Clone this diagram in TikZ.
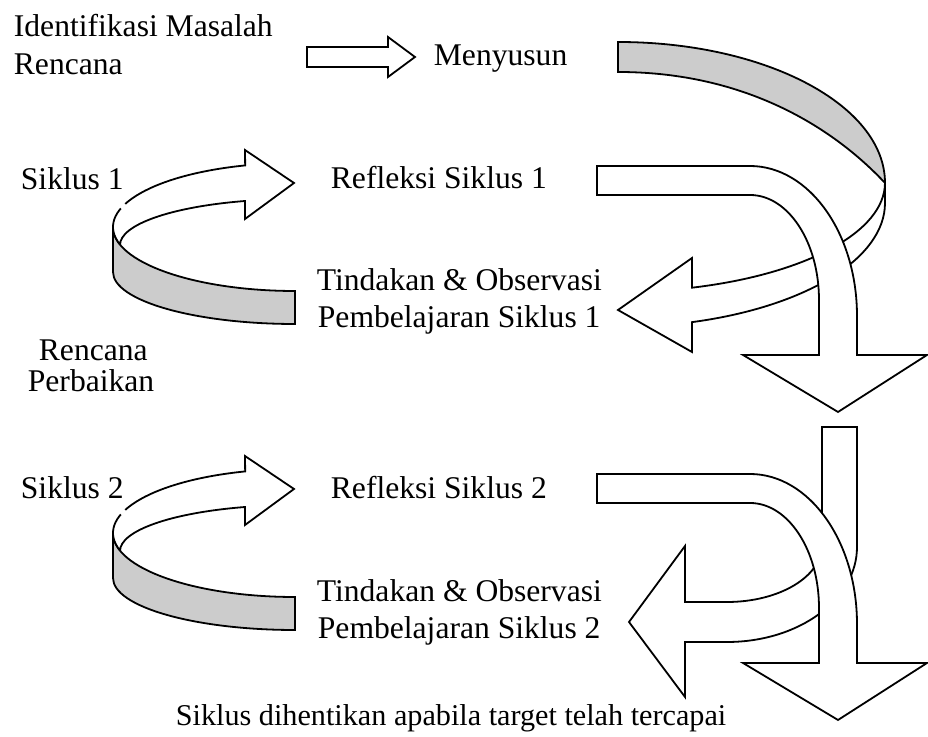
\documentclass[tikz,border=0pt]{standalone}
\usepackage{fontspec}
\setmainfont{Liberation Serif}
\definecolor{ribbon}{RGB}{204,204,204}
\begin{document}
\begin{tikzpicture}[x=0.5pt,y=-0.5pt,line width=0.9pt,line join=miter,
  front/.style={draw=black,fill=white},
  back/.style={draw=black,fill=ribbon},
  lbl/.style={anchor=base west,inner sep=0pt,font=\fontsize{15.8}{18}\selectfont}]
\useasboundingbox (0,0) rectangle (928,737);

% small straight arrow
\filldraw[front] (307,47) -- (388,47) -- (388,37) -- (415,57) -- (388,77) -- (388,67) -- (307,67) -- cycle;

% top curved-left arrow (A)
\filldraw[back] (618,42) arc[start angle=270,end angle=360,x radius=267,y radius=141]
  .. controls (844,139) and (758,72) .. (618,72) -- cycle;
\filldraw[front] (885,183) -- (885,203)
  arc[start angle=0,end angle=73.9,x radius=267,y radius=124]
  -- (692,352) -- (618,310) -- (692,258) -- (692,287.7)
  arc[start angle=73.9,end angle=0,x radius=267,y radius=109] -- cycle;

% bent arrow 1 (B)
\filldraw[front] (597,166) -- (750,166)
  arc[start angle=270,end angle=360,x radius=107,y radius=150]
  -- (857,355) -- (927,355) -- (838,412) -- (743,355) -- (819,355) -- (819,300)
  arc[start angle=0,end angle=-90,x radius=69,y radius=105]
  -- (597,195) -- cycle;

% left curved-right arrows (C)
\foreach \dy in {0,306}{
\begin{scope}[shift={(0,\dy)}]
\filldraw[back] (113,227) arc[start angle=180,end angle=90,x radius=182,y radius=64]
  -- (295,324) arc[start angle=90,end angle=180,x radius=182,y radius=52] -- cycle;
\filldraw[front] (245,150) -- (294,183) -- (245,219) -- (245,201)
  arc[start angle=253.4,end angle=180,x radius=175,y radius=46]
  -- (120.0,244.5)
  arc[start angle=164.1,end angle=254.1,x radius=182,y radius=64] -- cycle;
\draw[white,line width=1.6pt] (121.0,208.3) arc[start angle=197,end angle=201,x radius=182,y radius=64];
\end{scope}}

% curved-left arrow 2 (E)
\filldraw[front] (822,427) -- (857,427) -- (857,547)
  arc[start angle=0,end angle=90,x radius=130,y radius=95]
  -- (685,642) -- (685,697) -- (629,622) -- (685,546) -- (685,602) -- (727,602)
  arc[start angle=90,end angle=0,x radius=95,y radius=57] -- cycle;

% bent arrow 2 (D)
\begin{scope}[shift={(0,308)}]
\filldraw[front] (597,166) -- (750,166)
  arc[start angle=270,end angle=360,x radius=107,y radius=150]
  -- (857,355) -- (927,355) -- (838,412) -- (743,355) -- (819,355) -- (819,300)
  arc[start angle=0,end angle=-90,x radius=69,y radius=105]
  -- (597,195) -- cycle;
\end{scope}

% texts
\node[lbl] (t1) at (13,37) {Identifikasi Masalah};
\node[lbl] (t2) at (13,75) {Rencana};
\node[lbl] (t3) at (433,66) {Menyusun};
\node[lbl] (s1) at (20,190) {Siklus 1};
\node[lbl] (r1) at (330,189) {Refleksi Siklus 1};
\node[lbl] (o1) at (316,291) {Tindakan \& Observasi};
\node[lbl] (p1) at (317,328) {Pembelajaran Siklus 1};
\node[lbl] (rp1) at (38,361) {Rencana};
\node[lbl] (rp2) at (27,392) {Perbaikan};
\node[lbl] (s2) at (20,499) {Siklus 2};
\node[lbl] (r2) at (330,499) {Refleksi Siklus 2};
\node[lbl] (o2) at (316,602) {Tindakan \& Observasi};
\node[lbl] (p2) at (317,639) {Pembelajaran Siklus 2};
\node[lbl,font=\fontsize{15.1}{18}\selectfont] (fin) at (175,726) {Siklus dihentikan apabila target telah tercapai};
\end{tikzpicture}
\end{document}
